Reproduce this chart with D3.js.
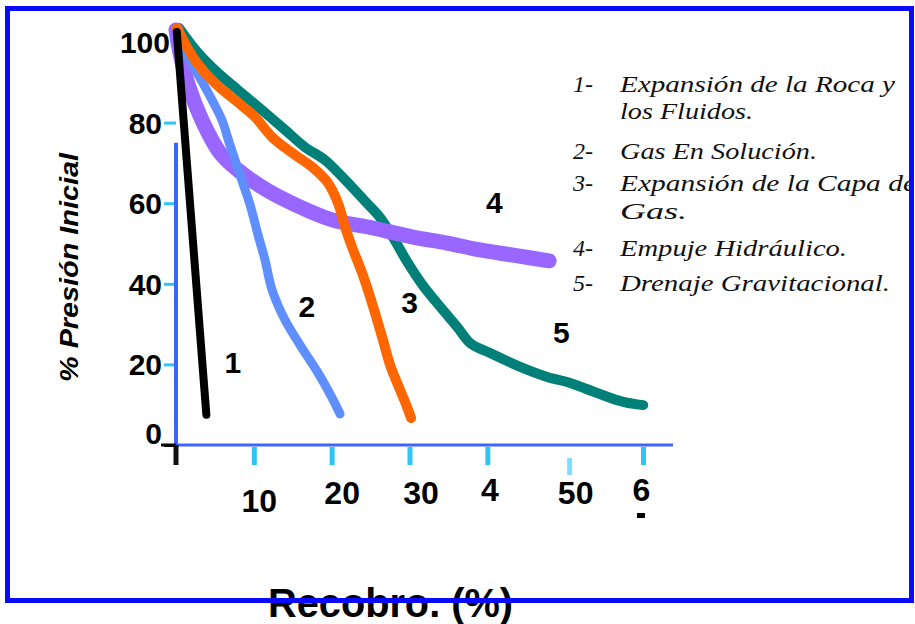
<!DOCTYPE html>
<html><head><meta charset="utf-8">
<script src="https://cdn.jsdelivr.net/npm/d3@7"></script>
<style>body{margin:0;background:#fff;} svg{display:block;}</style>
</head><body><svg id="c" width="915" height="624"></svg>
<script>
// ---- data ----
const curveNames = ["1", "2", "3", "4", "5"];
const expansionRocaFluidos = [[0.1,102.5],[3.9,7.5]];
const gasEnSolucion = [[0.26,103],[1.41,96.8],[3.08,91.1],[4.63,85.6],[5.91,80.6],[6.94,74.4],[8.23,67.0],[9.51,59.6],[10.54,52.1],[11.44,45.9],[12.34,38.5],[14.01,31.0],[15.94,24.8],[18.25,17.9],[20.05,11.7],[21.08,7.7]];
const capaDeGas = [[0.13,103.5],[2.44,95.5],[5.01,89.8],[7.58,85.6],[10.15,81.4],[12.34,76.4],[14.91,72.5],[17.48,69.0],[19.54,65.0],[20.82,60.0],[21.72,54.1],[22.62,49.1],[23.91,42.7],[25.19,35.2],[26.48,26.8],[27.5,19.9],[28.8,13.6],[29.69,9.4],[30.2,6.7]];
const empujeHidraulico = [[0,103],[0.51,97.3],[1.67,88.8],[3.34,80.6],[5.66,72.5],[7.97,68.2],[11.05,64.0],[14.91,60.0],[20.18,55.8],[24.68,54.1],[30.46,51.6],[34.83,50.1],[39.07,48.4],[43.32,47.1],[47.94,45.7]];
const drenajeGravitacional = [[0.39,103.5],[2.83,97.3],[5.4,92.3],[7.97,88.1],[11.05,83.1],[14.01,78.2],[16.58,73.9],[19.15,70.7],[21.72,65.8],[24.29,60.5],[26.2,56.5],[27.89,51.5],[29.69,45.5],[31.75,39.5],[33.55,35.2],[36.12,29.3],[37.79,25.3],[40.36,22.8],[44.22,19.4],[47.69,16.9],[50.64,15.4],[54.11,12.9],[57.46,10.7],[60.03,9.9]];
const curveLabelPositions = [[7.3,20.6],[16.8,34.5],[30,35.5],[40.9,60.3],[49.5,28]];
const xTickValues = [10, 20, 30, 40, 50, 60];
const xTickLabels = ["10", "20", "30", "4", "50", "6"];
const yTickValues = [0, 20, 40, 60, 80, 100];
const yTickLabels = ["0", "20", "40", "60", "80", "100"];
const legendNumbers = ["1-", "", "2-", "3-", "", "4-", "5-"];
const legendTexts = ["Expansión de la Roca y", "los Fluidos.", "Gas En Solución.", "Expansión de la Capa de", "Gas.", "Empuje Hidráulico.", "Drenaje Gravitacional."];
const yTitle = "% Presión Inicial";
const xTitle = "Recobro. (%)";

// ---- layout / style ----
const svg = d3.select("#c");
const x = d3.scaleLinear().domain([0, 60]).range([176, 643]);
const y = d3.scaleLinear().domain([0, 100]).range([445, 42]);
const axisBlue = "#3c64ff", tickCyan = "#2fc4f4";

// x axis title (drawn under frame)
svg.append("text").attr("x", 268).attr("y", 617)
  .attr("font-family", "Liberation Sans, Arial, sans-serif").attr("font-weight", "bold")
  .attr("font-size", 40).attr("textLength", 245).attr("lengthAdjust", "spacingAndGlyphs")
  .text(xTitle);

// frame
svg.append("rect").attr("x", 7.5).attr("y", 8.5).attr("width", 904).attr("height", 592)
  .attr("fill", "none").attr("stroke", "#0a0aff").attr("stroke-width", 5);

// y title
svg.append("text").attr("transform", "translate(78,382) rotate(-90)")
  .attr("font-family", "Liberation Sans, Arial, sans-serif").attr("font-weight", "bold")
  .attr("font-style", "italic").attr("font-size", 25)
  .attr("textLength", 229).attr("lengthAdjust", "spacingAndGlyphs").text(yTitle);

// y axis
const yAxis = d3.axisLeft(y).tickValues(yTickValues).tickFormat((d, i) => yTickLabels[i]).tickSize(12).tickPadding(4);
const gy = svg.append("g").attr("transform", "translate(176,0)").call(yAxis);
gy.select(".domain").remove();
gy.append("line").attr("x1", 0).attr("x2", 0).attr("y1", y(75)).attr("y2", y(0) + 2)
  .attr("stroke", axisBlue).attr("stroke-width", 4);
gy.selectAll(".tick line").attr("stroke", d => d === 0 ? "#000" : tickCyan).attr("stroke-width", 3)
  .attr("display", d => d === 100 ? "none" : null);
gy.selectAll(".tick text").attr("font-family", "Liberation Sans, Arial, sans-serif")
  .attr("font-weight", "bold").attr("font-size", 30).attr("fill", "#000")
  .attr("x", d => d === 100 ? -6 : -14)
  .attr("dy", d => d === 0 ? "-0.05em" : "0.35em");

// x axis
const xAxis = d3.axisBottom(x).tickValues(xTickValues).tickFormat((d, i) => xTickLabels[i]).tickSize(18).tickPadding(18);
const gx = svg.append("g").attr("transform", "translate(0,445)").call(xAxis);
gx.select(".domain").remove();
gx.append("line").attr("x1", x(0) - 15).attr("x2", x(0)).attr("y1", 0).attr("y2", 0).attr("stroke", "#000").attr("stroke-width", 3);
gx.append("line").attr("x1", x(0)).attr("x2", 673).attr("y1", 0).attr("y2", 0).attr("stroke", axisBlue).attr("stroke-width", 3);
gx.append("line").attr("x1", x(0)).attr("x2", x(0)).attr("y1", 0).attr("y2", 20).attr("stroke", "#111").attr("stroke-width", 5);
gx.selectAll(".tick line").attr("stroke", d => d === 50 ? "#80dcff" : tickCyan).attr("stroke-width", 5)
  .attr("y1", d => d === 50 ? 13 : 2).attr("y2", d => d === 50 ? 30 : 20)
  .attr("transform", d => d === 50 ? "translate(4,0)" : null);
const xdx = {10: 5, 20: 10, 30: 11, 40: 2, 50: 10, 60: -2};
const xdy = {10: 8, 20: 0, 30: 0, 40: -3, 50: 0, 60: -3};
gx.selectAll(".tick text").attr("font-family", "Liberation Sans, Arial, sans-serif")
  .attr("font-weight", "bold").attr("font-size", 32).attr("fill", "#000")
  .attr("transform", d => `translate(${xdx[d]},${xdy[d]})`);
gx.append("rect").attr("x", x(60) - 6).attr("y", 68).attr("width", 8).attr("height", 5).attr("fill", "#000");

// curves
const line = d3.line().x(d => x(d[0])).y(d => y(d[1])).curve(d3.curveCatmullRom.alpha(0.5));
const curves = [
  {data: drenajeGravitacional, color: "#008078", w: 10},
  {data: empujeHidraulico, color: "#9966ff", w: 15},
  {data: gasEnSolucion, color: "#5f8fff", w: 9},
  {data: capaDeGas, color: "#ff6600", w: 10},
  {data: expansionRocaFluidos, color: "#000000", w: 8}
];
svg.append("g").selectAll("path").data(curves).join("path")
  .attr("d", d => line(d.data)).attr("fill", "none")
  .attr("stroke", d => d.color).attr("stroke-width", d => d.w)
  .attr("stroke-linecap", "round").attr("stroke-linejoin", "round");

// curve labels
svg.append("g").selectAll("text").data(curveNames).join("text")
  .attr("x", (d, i) => x(curveLabelPositions[i][0])).attr("y", (d, i) => y(curveLabelPositions[i][1]))
  .attr("dy", "0.36em").attr("text-anchor", "middle")
  .attr("font-family", "Liberation Sans, Arial, sans-serif").attr("font-weight", "bold")
  .attr("font-size", 30).text(d => d);

// legend
const legendBaselines = [92, 119, 159, 191, 219, 256, 291];
const legendLengths = [275, 133, 197, 296, 67, 227, 270];
const lg = svg.append("g").attr("font-family", "Liberation Serif, Times New Roman, serif")
  .attr("font-style", "italic").attr("font-size", 24).attr("fill", "#111");
lg.selectAll("text.num").data(legendNumbers).join("text").attr("class", "num")
  .attr("x", 573).attr("y", (d, i) => legendBaselines[i]).text(d => d);
lg.selectAll("text.lbl").data(legendTexts).join("text").attr("class", "lbl")
  .attr("x", 620).attr("y", (d, i) => legendBaselines[i])
  .attr("textLength", (d, i) => legendLengths[i]).attr("lengthAdjust", "spacingAndGlyphs").text(d => d);

// right frame edge drawn above legend overflow
svg.append("line").attr("x1", 911.5).attr("x2", 911.5).attr("y1", 6).attr("y2", 603)
  .attr("stroke", "#0a0aff").attr("stroke-width", 5);
svg.append("rect").attr("x", 914).attr("y", 0).attr("width", 1).attr("height", 624).attr("fill", "#fff");
</script></body></html>
